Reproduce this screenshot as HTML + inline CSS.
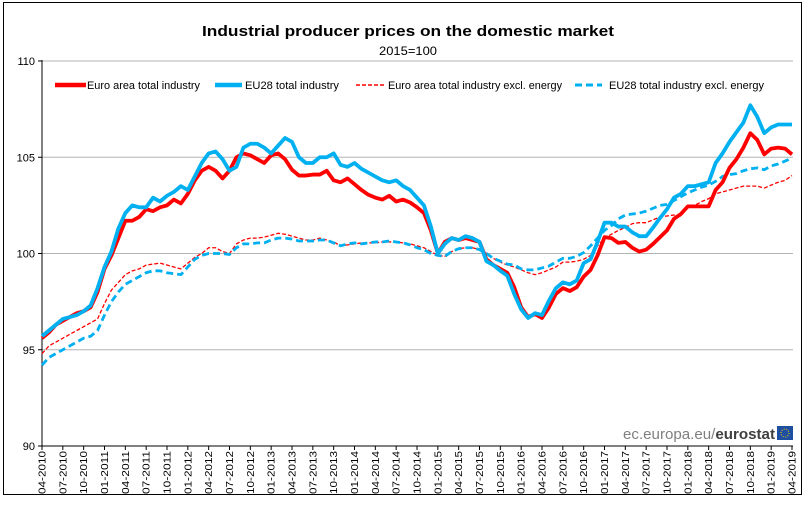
<!DOCTYPE html>
<html><head><meta charset="utf-8"><style>
html,body{margin:0;padding:0;background:#fff;}
svg{display:block;font-family:"Liberation Sans",Arial,sans-serif;}
</style></head><body>
<svg id="chart" width="807" height="506" viewBox="0 0 807 506" xmlns="http://www.w3.org/2000/svg">
<rect x="3.5" y="2.5" width="798" height="492" fill="#fff" stroke="#000" stroke-width="1"/>
<text x="408" y="36" text-anchor="middle" font-size="15" font-weight="bold" textLength="412" lengthAdjust="spacingAndGlyphs">Industrial producer prices on the domestic market</text>
<text x="408" y="55" text-anchor="middle" font-size="12" textLength="58" lengthAdjust="spacingAndGlyphs">2015=100</text>
<g id="grid"></g>
<g id="yaxis"></g>
<g id="xaxis"></g>
<g id="series"></g>
<g font-size="11">
 <g>
  <line x1="55" y1="85" x2="86" y2="85" stroke="#ff0000" stroke-width="4.5"/>
  <text x="87" y="89" textLength="113" lengthAdjust="spacingAndGlyphs">Euro area total industry</text>
 </g>
 <g>
  <line x1="215" y1="85" x2="242" y2="85" stroke="#00b0f0" stroke-width="4.5"/>
  <text x="245" y="89" textLength="94" lengthAdjust="spacingAndGlyphs">EU28 total industry</text>
 </g>
 <g>
  <line x1="356" y1="85" x2="386" y2="85" stroke="#ff0000" stroke-width="1.5" stroke-dasharray="4,2"/>
  <text x="388" y="89" textLength="174" lengthAdjust="spacingAndGlyphs">Euro area total industry excl. energy</text>
 </g>
 <g>
  <line x1="575" y1="85" x2="602" y2="85" stroke="#00b0f0" stroke-width="3" stroke-dasharray="7,4"/>
  <text x="609" y="89" textLength="155" lengthAdjust="spacingAndGlyphs">EU28 total industry excl. energy</text>
 </g>
</g>
<g>
 <text x="623" y="439" font-size="15" fill="#7f7f7f" textLength="152" lengthAdjust="spacingAndGlyphs">ec.europa.eu/<tspan font-weight="bold" fill="#404040">eurostat</tspan></text>
 <rect x="777" y="426" width="16" height="14" fill="#1f4fa0"/>
 <circle cx="785" cy="433" r="4" fill="none" stroke="#ffd800" stroke-width="1" stroke-dasharray="1,1.5"/>
</g>
</svg>
<script>
const categories = [];
const startYear = 2010, startMonth = 4;
for (let i = 0; i < 109; i++) { const m = (startMonth - 1 + i) % 12 + 1; const y = startYear + Math.floor((startMonth - 1 + i) / 12); categories.push(String(m).padStart(2,'0') + '-' + y); }
const yTicks = [90, 95, 100, 105, 110];
const euroTotal = [95.6,95.9,96.3,96.5,96.7,96.9,97.0,97.2,98.0,99.2,
99.9,100.8,101.7,101.7,101.9,102.3,102.2,102.4,102.5,102.8,
102.6,103.1,103.8,104.3,104.5,104.3,103.9,104.3,105.0,105.2,
105.1,104.9,104.7,105.1,105.2,104.9,104.35,104.05,104.05,104.1,
104.1,104.3,103.8,103.7,103.9,103.6,103.3,103.05,102.9,102.8,
103.0,102.7,102.8,102.65,102.4,102.1,101.2,100.0,100.6,100.8,
100.7,100.8,100.7,100.6,99.7,99.4,99.2,99.0,98.25,97.2,
96.7,96.85,96.65,97.2,97.9,98.2,98.05,98.25,98.8,99.15,
99.9,100.85,100.8,100.55,100.6,100.3,100.1,100.2,100.5,100.85,
101.2,101.8,102.05,102.45,102.45,102.45,102.45,103.3,103.7,104.45,
104.9,105.5,106.25,105.9,105.15,105.45,105.5,105.45,105.15];
const eu28Total = [95.7,96.0,96.3,96.6,96.7,96.8,97.0,97.3,98.2,99.3,
100.1,101.3,102.1,102.5,102.4,102.4,102.9,102.7,103.0,103.2,
103.5,103.3,104.0,104.7,105.2,105.3,104.9,104.3,104.5,105.5,
105.7,105.7,105.5,105.2,105.6,106.0,105.8,105.0,104.7,104.7,
105.0,105.0,105.2,104.6,104.5,104.7,104.4,104.2,104.0,103.8,
103.7,103.8,103.5,103.3,102.9,102.5,101.4,100.0,100.5,100.8,
100.7,100.9,100.8,100.6,99.6,99.4,99.1,98.85,97.9,97.1,
96.65,96.9,96.8,97.55,98.2,98.5,98.4,98.6,99.5,99.7,
100.6,101.6,101.6,101.4,101.4,101.1,100.9,100.9,101.35,101.85,
102.3,102.9,103.1,103.5,103.5,103.6,103.7,104.7,105.2,105.8,
106.3,106.8,107.7,107.1,106.25,106.55,106.7,106.7,106.7];
const euroExclEnergy = [94.8,95.2,95.4,95.6,95.8,96.0,96.2,96.4,96.6,97.4,
98.1,98.5,98.9,99.1,99.2,99.4,99.45,99.5,99.4,99.3,
99.2,99.5,99.8,100.0,100.3,100.3,100.1,100.0,100.5,100.7,
100.8,100.8,100.85,100.95,101.05,101.0,100.9,100.8,100.7,100.7,
100.8,100.7,100.6,100.4,100.45,100.5,100.55,100.55,100.55,100.6,
100.6,100.6,100.55,100.5,100.4,100.3,100.1,99.9,99.85,100.1,
100.25,100.3,100.3,100.2,100.0,99.75,99.55,99.4,99.3,99.15,
99.0,98.9,99.0,99.15,99.3,99.55,99.55,99.6,99.7,99.9,
100.4,100.8,101.0,101.2,101.35,101.55,101.6,101.6,101.75,101.9,
101.95,102.0,101.95,102.4,102.5,102.7,102.85,103.1,103.2,103.3,
103.4,103.5,103.5,103.5,103.4,103.55,103.7,103.8,104.05];
const eu28ExclEnergy = [94.2,94.6,94.8,95.0,95.2,95.4,95.6,95.7,96.0,96.8,
97.5,98.0,98.4,98.6,98.8,99.0,99.1,99.1,99.0,98.95,
98.9,99.3,99.7,99.9,100.0,100.0,100.0,99.95,100.3,100.5,
100.5,100.55,100.55,100.7,100.8,100.8,100.75,100.65,100.65,100.65,
100.7,100.7,100.55,100.4,100.5,100.55,100.5,100.55,100.6,100.6,
100.65,100.6,100.55,100.45,100.3,100.2,100.0,99.9,99.85,100.1,
100.25,100.3,100.3,100.2,100.0,99.75,99.6,99.45,99.4,99.2,
99.15,99.15,99.25,99.35,99.55,99.75,99.75,99.85,100.05,100.4,
100.8,101.2,101.45,101.8,102.0,102.05,102.1,102.2,102.35,102.5,
102.55,102.75,102.95,103.15,103.3,103.45,103.55,103.75,104.0,104.1,
104.15,104.3,104.4,104.45,104.35,104.55,104.65,104.8,104.95];

const NS = 'http://www.w3.org/2000/svg';
const X0 = 42, X1 = 792, Y0 = 446, Y1 = 61, YMIN = 90, YMAX = 110;
function xPos(i) { return X0 + (X1 - X0) * i / (categories.length - 1); }
function yPos(v) { return Y0 - (Y0 - Y1) * (v - YMIN) / (YMAX - YMIN); }
function mk(tag, attrs, parent) { const e = document.createElementNS(NS, tag); for (const k in attrs) e.setAttribute(k, attrs[k]); parent.appendChild(e); return e; }

const grid = document.getElementById('grid'), yaxis = document.getElementById('yaxis'), xaxis = document.getElementById('xaxis');
yTicks.forEach(t => {
  if (t > YMIN) {
    const g = mk('line', {x1: X0, x2: 793, y1: yPos(t), y2: yPos(t), stroke: '#b3b3b3', 'stroke-width': 1}, grid);
    
    
  }
  const tk = mk('line', {x1: X0 - 4, x2: X0, y1: yPos(t), y2: yPos(t), stroke: '#000'}, yaxis);
  
  
  const lb = mk('text', {x: X0 - 7, y: yPos(t) + 4, 'text-anchor': 'end', 'font-size': 11}, yaxis);
  lb.textContent = t;
  
  
});
const ya = mk('line', {x1: X0, x2: X0, y1: Y1 - 1, y2: Y0, stroke: '#000'}, yaxis);


const xa = mk('line', {x1: X0, x2: 793, y1: Y0, y2: Y0, stroke: '#000'}, xaxis);


categories.forEach((c, i) => {
  if (i % 3 !== 0) return;
  const x = xPos(i);
  const tk = mk('line', {x1: x, x2: x, y1: Y0, y2: Y0 + 4, stroke: '#000'}, xaxis);
  
  
  const lb = mk('text', {x: 0, y: 0, 'text-anchor': 'end', 'font-size': 10, transform: 'translate(' + (x + 3.5) + ',' + (Y0 + 5) + ') rotate(-90)', textLength: 43, lengthAdjust: 'spacingAndGlyphs'}, xaxis);
  lb.textContent = c;
  
  
});

const seriesG = document.getElementById('series');
function drawSeries(vals, name, color, width, dash) {
  const d = vals.map((v, i) => (i ? 'L' : 'M') + xPos(i).toFixed(2) + ',' + yPos(v).toFixed(2)).join(' ');
  const attrs = {d: d, fill: 'none', stroke: color, 'stroke-width': width, 'stroke-linejoin': 'round'};
  if (dash) attrs['stroke-dasharray'] = dash;
  const p = mk('path', attrs, seriesG);
  
  
}
drawSeries(euroExclEnergy, 'line-euro-area-excl-energy', '#ff0000', 1.3, '4,2');
drawSeries(eu28ExclEnergy, 'line-eu28-excl-energy', '#00b0f0', 2.8, '7,4');
drawSeries(euroTotal, 'line-euro-area-total', '#ff0000', 3.8, null);
drawSeries(eu28Total, 'line-eu28-total', '#00b0f0', 3.8, null);
</script>
</body></html>
